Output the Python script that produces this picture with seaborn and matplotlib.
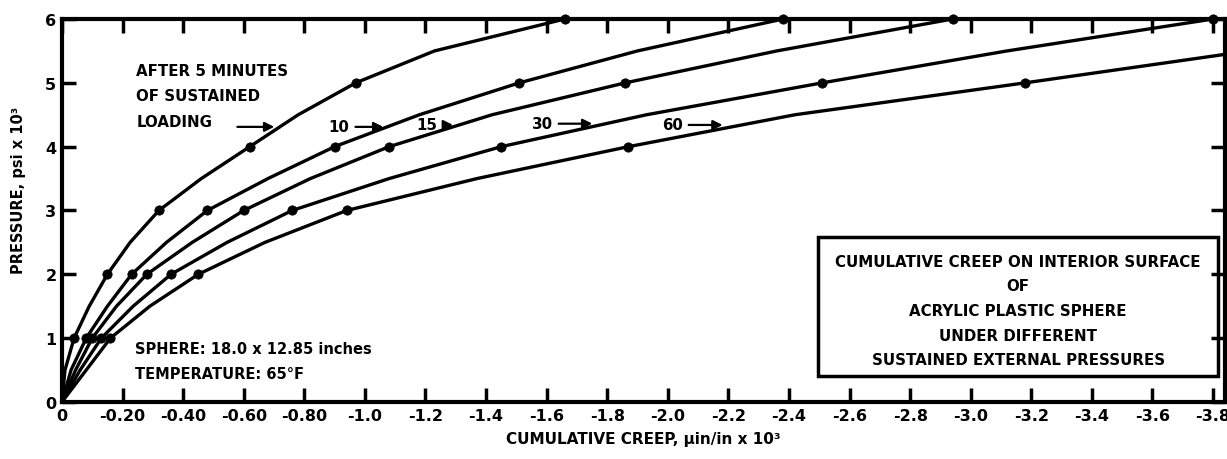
import pandas as pd
import matplotlib.pyplot as plt
import seaborn as sns
from matplotlib.patches import Rectangle

# pressure levels (psi x 10^3) of the marked points
pressure = [1, 2, 3, 4, 5, 6]

# cumulative creep (uin/in x 10^3) at the marked points, by loading time
creep_5 = [-0.04, -0.15, -0.32, -0.62, -0.97, -1.66]
creep_10 = [-0.08, -0.23, -0.48, -0.90, -1.51, -2.38]
creep_15 = [-0.10, -0.28, -0.60, -1.08, -1.86, -2.94]
creep_30 = [-0.13, -0.36, -0.76, -1.45, -2.51, -3.80]
creep_60 = [-0.16, -0.45, -0.94, -1.87, -3.18]

# extra readings along the drawn curves, between the marked points
trace_p = [0.5, 1.5, 2.5, 3.5, 4.5, 5.5]
trace_5 = [-0.01, -0.09, -0.225, -0.46, -0.78, -1.23]
trace_10 = [-0.03, -0.15, -0.345, -0.68, -1.18, -1.90]
trace_15 = [-0.045, -0.18, -0.43, -0.82, -1.42, -2.36]
trace_30 = [-0.06, -0.235, -0.545, -1.08, -1.93, -3.12]
trace_60 = [-0.08, -0.29, -0.67, -1.37, -2.42]
# the 60 minute curve leaves the frame on the right
creep_60_end = -3.86
pressure_60_end = 5.46

x_ticks = [0, -0.2, -0.4, -0.6, -0.8, -1.0, -1.2, -1.4, -1.6, -1.8, -2.0,
           -2.2, -2.4, -2.6, -2.8, -3.0, -3.2, -3.4, -3.6, -3.8]
x_tick_labels = ['0', '-0.20', '-0.40', '-0.60', '-0.80', '-1.0', '-1.2', '-1.4',
                 '-1.6', '-1.8', '-2.0', '-2.2', '-2.4', '-2.6', '-2.8', '-3.0',
                 '-3.2', '-3.4', '-3.6', '-3.8']
y_ticks = [0, 1, 2, 3, 4, 5, 6]

curves = {5: (creep_5, trace_5), 10: (creep_10, trace_10), 15: (creep_15, trace_15),
          30: (creep_30, trace_30), 60: (creep_60, trace_60)}

pts = []
lines = []
for minutes, (creep, trace) in curves.items():
    rows = [(0.0, 0.0)]
    rows += list(zip(creep, pressure))
    rows += list(zip(trace, trace_p))
    if minutes == 60:
        rows.append((creep_60_end, pressure_60_end))
    rows.sort(key=lambda r: r[1])
    for c, p in rows:
        lines.append({'minutes': minutes, 'creep': c, 'pressure': p})
    for c, p in zip(creep, pressure):
        pts.append({'minutes': minutes, 'creep': c, 'pressure': p})
df_pts = pd.DataFrame(pts)
df_lines = pd.DataFrame(lines)

sns.set_style('ticks')
plt.rcParams['font.family'] = ['DejaVu Sans']
plt.rcParams['font.weight'] = 'bold'
for key in ['text.color', 'axes.labelcolor', 'xtick.color', 'ytick.color',
            'axes.edgecolor']:
    plt.rcParams[key] = 'black'

fig = plt.figure(figsize=(12.27, 4.6), dpi=100)
ax = fig.add_axes([0.0505, 0.124, 0.948, 0.8325])

sns.lineplot(data=df_lines, x='creep', y='pressure', units='minutes',
             estimator=None, sort=False, color='black', linewidth=2.4, ax=ax)
sns.scatterplot(data=df_pts, x='creep', y='pressure', color='black', s=45,
                edgecolor='black', ax=ax, clip_on=False, zorder=5)

ax.set_xlim(0, -3.84)
ax.set_ylim(0, 6)
ax.set_xticks(x_ticks)
ax.set_xticklabels(x_tick_labels, fontsize=11.5, fontweight='bold')
ax.set_yticks(y_ticks)
ax.set_yticklabels([str(v) for v in y_ticks], fontsize=11.5, fontweight='bold')
ax.tick_params(direction='in', length=10, width=2.5, top=True, right=True, pad=4)
for s in ax.spines.values():
    s.set_linewidth(3)
    s.set_visible(True)

ax.set_xlabel('CUMULATIVE CREEP, µin/in x 10³', fontsize=11, fontweight='bold',
              labelpad=6)
ax.set_ylabel('')
fig.text(0.0147, 0.585, 'PRESSURE, psi x 10³', rotation=90, ha='center',
         va='center', fontsize=10.5, fontweight='bold')

# labels for the loading times
txt = dict(fontsize=10.8, fontweight='bold', va='center')
ax.text(-0.245, 5.19, 'AFTER 5 MINUTES', **txt)
ax.text(-0.245, 4.80, 'OF SUSTAINED', **txt)
ax.text(-0.245, 4.40, 'LOADING', **txt)
arrow = dict(arrowstyle='-|>', color='black', lw=1.6, mutation_scale=14)
ax.annotate('', xy=(-0.71, 4.31), xytext=(-0.57, 4.31), arrowprops=arrow)
ax.annotate('10', xy=(-1.07, 4.31), xytext=(-0.88, 4.31), arrowprops=arrow, **txt)
ax.annotate('15', xy=(-1.30, 4.34), xytext=(-1.17, 4.34), arrowprops=arrow, **txt)
ax.annotate('30', xy=(-1.76, 4.36), xytext=(-1.55, 4.36), arrowprops=arrow, **txt)
ax.annotate('60', xy=(-2.19, 4.34), xytext=(-1.98, 4.34), arrowprops=arrow, **txt)

ax.text(-0.24, 0.83, 'SPHERE: 18.0 x 12.85 inches', fontsize=10.5, fontweight='bold',
        va='center')
ax.text(-0.24, 0.44, 'TEMPERATURE: 65°F', fontsize=10.5, fontweight='bold',
        va='center')

# title box
ax.add_patch(Rectangle((0.650, 0.068), 0.344, 0.363, transform=ax.transAxes,
                       fill=False, edgecolor='black', linewidth=2.5, zorder=6))
box_lines = ['CUMULATIVE CREEP ON INTERIOR SURFACE', 'OF', 'ACRYLIC PLASTIC SPHERE',
             'UNDER DIFFERENT', 'SUSTAINED EXTERNAL PRESSURES']
for i, line in enumerate(box_lines):
    ax.text(0.822, 0.368 - i * 0.0645, line, transform=ax.transAxes, ha='center',
            va='center', fontsize=10.8, fontweight='bold')

fig.savefig('out.png', dpi=100, facecolor='white')
